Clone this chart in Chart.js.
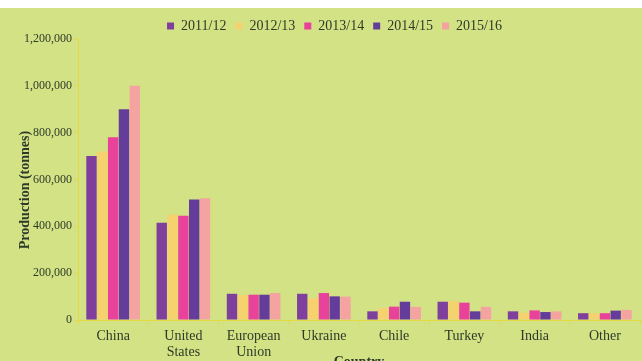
<!DOCTYPE html>
<html>
<head>
<meta charset="utf-8">
<script src="https://cdn.jsdelivr.net/npm/chart.js@4.4.0/dist/chart.umd.min.js"></script>
<style>
html,body{margin:0;padding:0;background:#ffffff;overflow:hidden;width:642px;height:361px;}
#wrap{position:absolute;left:0;top:8px;width:642px;height:363px;background:#d3e285;}
canvas{display:block;}
</style>
</head>
<body>
<div id="wrap"><canvas id="c" width="642" height="363"></canvas></div>
<script>
const categories = [["China"], ["United", "States"], ["European", "Union"], ["Ukraine"], ["Chile"], ["Turkey"], ["India"], ["Other"]];
const seriesNames = ["2011/12", "2012/13", "2013/14", "2014/15", "2015/16"];
const s2011 = [700000, 415000, 112000, 112000, 37000, 78000, 37000, 29000];
const s2012 = [720000, 450000, 107000, 93000, 51000, 80000, 31000, 29000];
const s2013 = [780000, 445000, 108000, 115000, 57000, 74000, 41000, 29000];
const s2014 = [900000, 515000, 108000, 101000, 78000, 37000, 34000, 40000];
const s2015 = [1000000, 520000, 115000, 100000, 56000, 56000, 37000, 43000];
const yTicks = [0, 200000, 400000, 600000, 800000, 1000000, 1200000];
const colors = ["#7e3f9d", "#f5d26e", "#e8429a", "#643d9b", "#f5a3a0"];

const textColor = "#2e3a28";
const axisColor = "#e3da45";
const serif = "'Liberation Serif', 'DejaVu Serif', serif";

const allSeries = [s2011, s2012, s2013, s2014, s2015];
const datasets = allSeries.map((d, i) => ({
  label: seriesNames[i],
  data: d,
  backgroundColor: colors[i],
  borderWidth: 0,
  categoryPercentage: 0.77,
  barPercentage: 0.96
}));

const legendShift = {
  id: 'legendShift',
  afterLayout(chart) {
    const lg = chart.legend;
    if (!lg) return;
    const dx = 14.5, dy = 4;
    lg.left += dx; lg.right += dx; lg.top += dy; lg.bottom += dy;
  }
};

new Chart(document.getElementById('c'), {
  type: 'bar',
  data: { labels: categories, datasets },
  plugins: [legendShift],
  options: {
    responsive: false,
    animation: false,
    devicePixelRatio: 1,
    layout: { padding: { top: -2, left: 0, right: 2, bottom: 0 } },
    plugins: {
      legend: {
        position: 'top',
        labels: {
          boxWidth: 7, boxHeight: 7, padding: 9,
          color: textColor,
          font: { family: serif, size: 14 }
        }
      },
      tooltip: { enabled: false }
    },
    scales: {
      x: {
        grid: { display: true, drawOnChartArea: false, color: axisColor, tickLength: 4, offset: true },
        border: { display: true, color: axisColor, width: 1 },
        ticks: { color: textColor, font: { family: serif, size: 14, lineHeight: 1.15 }, padding: 4, maxRotation: 0, autoSkip: false },
        title: { display: true, text: 'Country', color: textColor, font: { family: serif, size: 14, weight: 'bold' }, padding: { top: -10, bottom: 0 } }
      },
      y: {
        min: 0, max: 1200000,
        afterFit(scale) { scale.width = 78; },
        afterBuildTicks(scale) { scale.ticks = yTicks.map(v => ({ value: v })); },
        grid: { display: true, drawOnChartArea: false, color: axisColor, tickLength: 3 },
        border: { display: true, color: axisColor, width: 1 },
        ticks: {
          color: textColor, padding: 3,
          font: { family: serif, size: 12 },
          callback: v => Number(v).toLocaleString('en-US')
        },
        title: { display: true, text: 'Production (tonnes)\u00a0\u00a0\u00a0\u00a0\u00a0\u00a0', color: textColor, font: { family: serif, size: 14, weight: 'bold' }, padding: { top: 17, bottom: 0 } }
      }
    }
  }
});
</script>
</body>
</html>
